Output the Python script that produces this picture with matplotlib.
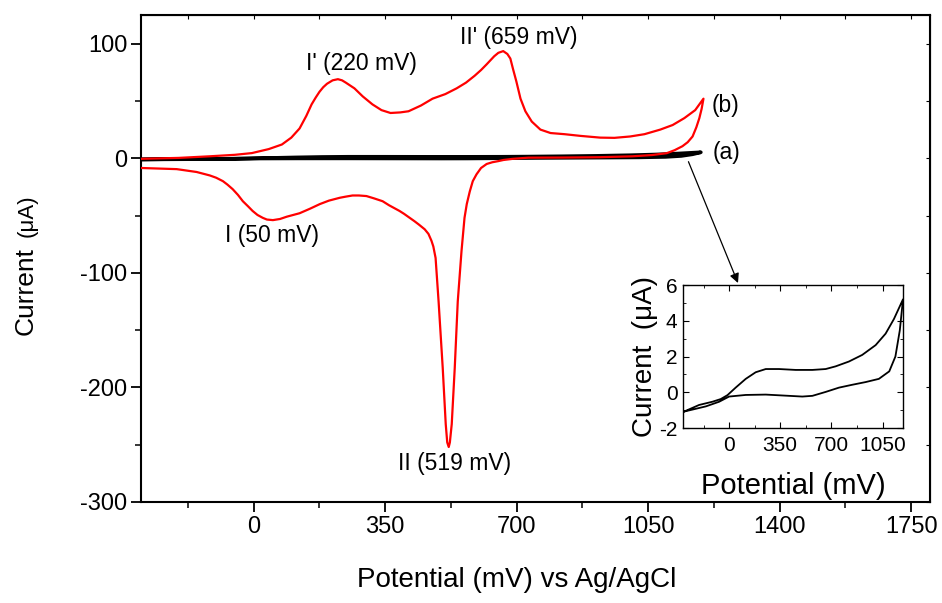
import numpy as np
import matplotlib
matplotlib.use('Agg')
import matplotlib.pyplot as plt
from matplotlib.ticker import MultipleLocator

plt.rcParams['font.family'] = ['Liberation Sans', 'DejaVu Sans']
plt.rcParams['axes.unicode_minus'] = False

# curve (b): red CV, anodic sweep then cathodic sweep (mV, uA)
red_fwd_x = [-300, -200, -117, -50, -5, 40, 75, 100, 122, 140, 154, 165, 175, 185, 195, 210, 224,
             235, 245, 268, 290, 316, 340, 364, 390, 412, 445, 476, 510, 540, 565, 588, 605, 620,
             640, 651, 664, 675, 683, 690, 699, 710, 723, 740, 763, 790, 827, 870, 922, 960, 1002,
             1040, 1082, 1115, 1146, 1175, 1197]
red_fwd_y = [-0.5, 0.3, 1.7, 3, 4.5, 8, 12, 18, 26, 37, 47, 53, 58, 62, 65, 68, 69,
             68, 66, 61, 54, 47, 42, 39.5, 40, 41, 46, 52, 56, 61, 66, 72, 77, 82,
             89, 92, 93.5, 91, 87, 78, 67, 52, 41, 32, 25, 22, 21, 19.5, 18, 17.8, 19,
             21, 25, 29, 35, 42, 52]
red_rev_x = [1197, 1192, 1186, 1178, 1168, 1155, 1141, 1120, 1099, 1060, 1008, 920, 820, 731, 690,
             665, 651, 635, 620, 605, 593, 583, 575, 567, 561, 553, 543, 535, 527, 522, 519, 515,
             511, 503, 492, 484, 478, 473, 465, 455, 440, 428, 400, 388, 360, 343, 320, 300, 280,
             263, 245, 229, 200, 176, 150, 122, 100, 88, 70, 51, 35, 24, 10, -3, -15, -29, -42,
             -56, -70, -82, -100, -117, -152, -205, -250, -300]
red_rev_y = [52, 43, 35, 27, 19, 14, 10.5, 7, 4.4, 2.8, 1.7, 0.9, 0.6, 0.5, -0.5,
             -1.5, -2.5, -3.5, -5, -8.5, -14, -20, -29, -40, -52, -81, -125, -183, -232, -248, -252, -248,
             -232, -183, -125, -87, -77, -72, -66, -62, -58, -55, -48.5, -46, -41, -37.5, -35, -33, -32.5,
             -32.5, -33.5, -34.5, -37, -40, -44, -48, -50, -51, -53, -54, -53.5, -52, -49.5, -46, -42, -37.5, -32,
             -27, -23, -20, -17, -15, -12, -9.5, -9, -8.5]

# curve (a): black CV (also shown in the inset)
blk_fwd_x = [-308, -205, -114, -57, -11, 45, 114, 182, 251, 342, 456, 570, 661, 729, 820, 911,
             1003, 1071, 1128, 1190]
blk_fwd_y = [-1.08, -0.71, -0.53, -0.38, -0.16, 0.26, 0.75, 1.12, 1.30, 1.30, 1.25, 1.25, 1.30,
             1.45, 1.72, 2.09, 2.64, 3.28, 4.10, 5.20]
blk_rev_x = [1190, 1168, 1138, 1096, 1025, 934, 843, 752, 661, 570, 501, 388, 251, 114, 0,
             -68, -159, -251, -308]
blk_rev_y = [5.20, 3.46, 2.0, 1.17, 0.75, 0.57, 0.42, 0.26, 0.02, -0.20, -0.24, -0.19, -0.13,
             -0.15, -0.24, -0.53, -0.79, -0.97, -1.08]

peak_labels = ["I' (220 mV)", "II' (659 mV)", "I (50 mV)", "II (519 mV)"]
peak_pos = [(287, 83), (705, 105), (48, -67), (535, -266)]

fig = plt.figure(figsize=(9.42, 6.03), dpi=100)
ax = fig.add_axes([0.1497, 0.1675, 0.8376, 0.8076])

bx = blk_fwd_x + blk_rev_x
by = blk_fwd_y + blk_rev_y
ax.plot(bx, by, color='black', lw=2.6, zorder=2)
ax.plot(red_fwd_x + red_rev_x, red_fwd_y + red_rev_y, color='#ff0000', lw=1.6, zorder=3)

ax.set_xlim(-300, 1800)
ax.set_ylim(-300, 125)
ax.xaxis.set_major_locator(MultipleLocator(350))
ax.xaxis.set_minor_locator(MultipleLocator(175))
ax.yaxis.set_major_locator(MultipleLocator(100))
ax.yaxis.set_minor_locator(MultipleLocator(50))
ax.tick_params(which='major', direction='out', length=7, width=1.3, labelsize=17, pad=3)
ax.tick_params(which='minor', direction='out', length=4, width=1.1)
for s in ax.spines.values():
    s.set_linewidth(1.5)

top = ax.secondary_xaxis('top')
top.xaxis.set_major_locator(MultipleLocator(175))
top.tick_params(direction='in', length=3, width=0.8, labeltop=False)
right = ax.secondary_yaxis('right')
right.yaxis.set_major_locator(MultipleLocator(50))
right.tick_params(direction='in', length=3, width=0.8, labelright=False)

ax.set_xlabel('Potential (mV) vs Ag/AgCl', fontsize=20)
ax.xaxis.set_label_coords(0.4766, -0.133)
fig.text(33 / 942, 1 - 291 / 603, 'Current', fontsize=19, rotation=90,
         rotation_mode='anchor', ha='center', va='baseline')
fig.text(33 / 942, 1 - 216 / 603, '(\u03bcA)', fontsize=16, rotation=90,
         rotation_mode='anchor', ha='center', va='baseline')

for lab, (px, py) in zip(peak_labels, peak_pos):
    ax.text(px, py, lab, fontsize=16.5, ha='center', va='center')
ax.text(1218, 46, '(b)', fontsize=16.5, ha='left', va='center')
ax.text(1221, 5, '(a)', fontsize=16.5, ha='left', va='center')

# inset with curve (a) enlarged
axins = fig.add_axes([0.7251, 0.2902, 0.2335, 0.2371])
axins.plot(bx, by, color='black', lw=1.3)
axins.set_xlim(-315, 1190)
axins.set_ylim(-2, 6)
axins.xaxis.set_major_locator(MultipleLocator(350))
axins.xaxis.set_minor_locator(MultipleLocator(175))
axins.yaxis.set_major_locator(MultipleLocator(2))
axins.yaxis.set_minor_locator(MultipleLocator(1))
axins.tick_params(which='both', direction='in', top=True, right=True, labelsize=15)
axins.tick_params(axis='x', pad=6)
axins.tick_params(axis='y', pad=4)
axins.tick_params(which='major', length=4)
axins.tick_params(which='minor', length=2.5)
axins.set_xlabel('Potential (mV)', fontsize=21, labelpad=12)
axins.set_ylabel('Current  (\u03bcA)', fontsize=20, labelpad=1)
for s in axins.spines.values():
    s.set_linewidth(1.0)

ax.annotate('', xy=(738 / 942, 1 - 283 / 603), xycoords='figure fraction',
            xytext=(1157, -3), textcoords='data',
            arrowprops=dict(arrowstyle='-|>', color='black', lw=0.9,
                            mutation_scale=14, shrinkA=0, shrinkB=0))

fig.savefig('out.png', dpi=100)
